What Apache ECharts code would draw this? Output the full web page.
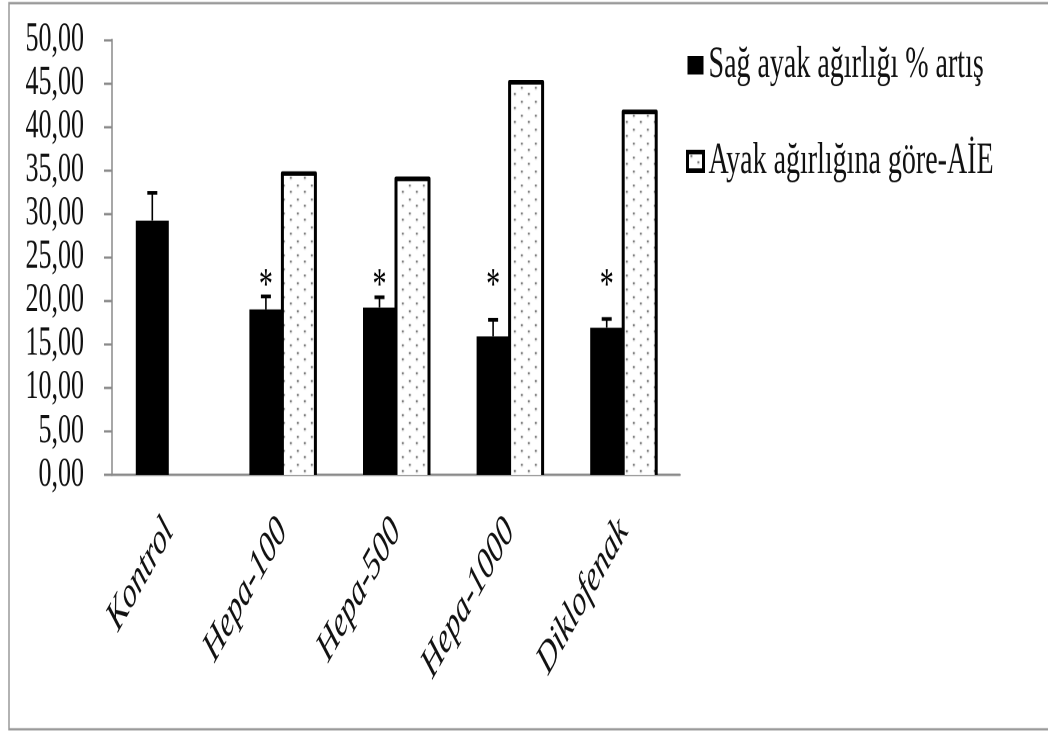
<!DOCTYPE html>
<html>
<head>
<meta charset="utf-8">
<script src="https://cdn.jsdelivr.net/npm/echarts@6/dist/echarts.min.js"></script>
<style>
  html, body { margin: 0; padding: 0; background: #fff; width: 1048px; height: 731px; overflow: hidden; }
  #chart { width: 1048px; transform-origin: 0 0; }
</style>
</head>
<body>
<div id="chart"></div>
<script>
// Groups on the x axis
const categories = ['Kontrol', 'Hepa-100', 'Hepa-500', 'Hepa-1000', 'Diklofenak'];
// Right paw weight increase (%), mean and standard error
const weightIncrease = [29.2, 19.0, 19.2, 15.9, 16.9];
const weightIncreaseErr = [3.2, 1.5, 1.2, 1.9, 1.0];
// Anti-inflammatory effect computed from paw weight (%)
const inhibition = [null, 34.6, 34.0, 45.1, 41.7];
// Significance marks against the control group
const significance = ['', '*', '*', '*', '*'];
const seriesNames = ['Sağ ayak ağırlığı % artış', 'Ayak ağırlığına göre-AİE'];

// The figure is drawn on a squat canvas and then stretched vertically,
// which gives the tall, narrow Times lettering of the original figure.
const STRETCH = 1.55;
const W = 1048;
const H = 731 / STRETCH;
const BAR_W = 33;
const SIG_LEVEL = 21.5;
const FONT = '"Liberation Serif", "Times New Roman", serif';
const AXIS_GRAY = '#8a8a8a';
const OUTLINE_W = 3;

const dom = document.getElementById('chart');
dom.style.height = H + 'px';
dom.style.transform = 'scaleY(' + STRETCH + ')';

// Small staggered dot fill for the AİE bars
function dotPattern() {
  const c = document.createElement('canvas');
  c.width = 14; c.height = 9;
  const g = c.getContext('2d');
  g.fillStyle = '#fff';
  g.fillRect(0, 0, 14, 9);
  g.fillStyle = '#333';
  g.fillRect(3, 2, 1.6, 1.2);
  g.fillRect(10, 6, 1.6, 1.2);
  return c;
}
const dots = { image: dotPattern(), repeat: 'repeat' };

const chart = echarts.init(dom, null, { renderer: 'canvas', devicePixelRatio: 2, width: W, height: H });

chart.setOption({
  animation: false,
  backgroundColor: '#fff',
  graphic: [{
    type: 'rect',
    shape: { x: 9, y: 2, width: 1100, height: 468 },
    style: { fill: 'none', stroke: '#9a9a9a', lineWidth: 1.5 },
    silent: true,
    z: -10
  }],
  grid: { left: 112, top: 25.5, width: 568, height: 280.5, containLabel: false },
  legend: {
    orient: 'vertical',
    left: 686,
    top: 27,
    padding: 0,
    icon: 'rect',
    itemWidth: 16,
    itemHeight: 12,
    itemGap: 32,
    selectedMode: false,
    textStyle: { fontFamily: FONT, fontSize: 28, color: '#111', lineHeight: 30 },
    data: [
      { name: seriesNames[0] },
      { name: seriesNames[1], itemStyle: { color: dots, borderColor: '#000', borderWidth: OUTLINE_W } }
    ]
  },
  xAxis: {
    type: 'category',
    data: categories,
    axisLine: { lineStyle: { color: AXIS_GRAY, width: 1.5 } },
    axisTick: { length: 7, lineStyle: { color: AXIS_GRAY, width: 1.5 } },
    axisLabel: {
      interval: 0,
      rotate: 49,
      margin: 32,
      fontFamily: FONT,
      fontStyle: 'italic',
      fontSize: 28,
      color: '#111'
    }
  },
  yAxis: {
    type: 'value',
    min: 0,
    max: 50,
    interval: 5,
    splitLine: { show: false },
    axisLine: { show: true, lineStyle: { color: AXIS_GRAY, width: 1.5 } },
    axisTick: { show: true, length: 8, lineStyle: { color: AXIS_GRAY, width: 1.5 } },
    axisLabel: {
      margin: 28,
      fontFamily: FONT,
      fontSize: 26,
      color: '#111',
      formatter: v => v.toFixed(2).replace('.', ',')
    }
  },
  series: [
    {
      name: seriesNames[0],
      type: 'bar',
      data: weightIncrease,
      barWidth: BAR_W,
      barGap: '0%',
      itemStyle: { color: '#000' }
    },
    {
      name: seriesNames[1],
      type: 'bar',
      data: inhibition,
      barWidth: BAR_W,
      barGap: '0%',
      itemStyle: { color: dots }
    },
    {
      // Open-bottom black outline around the AİE bars
      type: 'custom',
      z: 4,
      silent: true,
      data: categories.map((c, i) => [i, inhibition[i]]).filter(d => d[1] != null),
      renderItem(params, api) {
        const i = api.value(0);
        const base = api.coord([i, 0]);
        const top = api.coord([i, api.value(1)]);
        const l = base[0];
        const r = base[0] + BAR_W;
        return {
          type: 'polyline',
          shape: { points: [[l, base[1]], [l, top[1]], [r, top[1]], [r, base[1]]] },
          style: { stroke: '#000', fill: null, lineWidth: OUTLINE_W, lineJoin: 'round' }
        };
      }
    },
    {
      // Upward error bars and significance marks on the weight-increase bars
      type: 'custom',
      z: 5,
      silent: true,
      data: categories.map((c, i) => [i, weightIncrease[i], weightIncreaseErr[i]]),
      renderItem(params, api) {
        const i = api.value(0);
        const mean = api.value(1);
        const err = api.value(2);
        const base = api.coord([i, mean]);
        const top = api.coord([i, mean + err]);
        const x = base[0] - BAR_W / 2;
        const children = [
          { type: 'line', shape: { x1: x, y1: base[1], x2: x, y2: top[1] },
            style: { stroke: '#000', lineWidth: 1.6 } },
          { type: 'line', shape: { x1: x - 5, y1: top[1], x2: x + 5, y2: top[1] },
            style: { stroke: '#000', lineWidth: 2.4 } }
        ];
        const mark = significance[params.dataIndex];
        if (mark) {
          const p = api.coord([i, SIG_LEVEL]);
          children.push({
            type: 'text', x: x, y: p[1],
            style: { text: mark, font: '28px ' + FONT, fill: '#000', align: 'center', verticalAlign: 'middle' }
          });
        }
        return { type: 'group', children };
      }
    }
  ]
});
</script>
</body>
</html>
